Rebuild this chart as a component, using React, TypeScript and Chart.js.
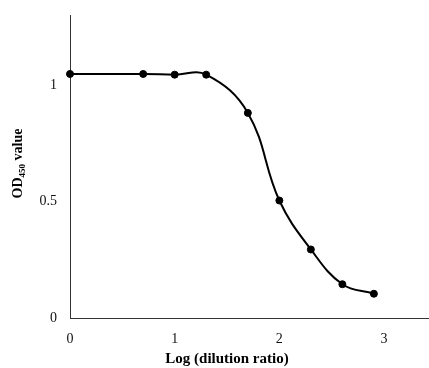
import React, { useEffect, useRef } from "react";
import { Chart, registerables } from "chart.js";

Chart.register(...registerables);

const logDilution = [0, 0.699, 1, 1.301, 1.699, 2, 2.301, 2.602, 2.903];
const od450 = [1.047, 1.047, 1.044, 1.044, 0.88, 0.504, 0.294, 0.145, 0.104];
const xTitle = "Log (dilution ratio)";
const yTitleMain = "OD";
const yTitleSub = "450";
const yTitleRest = " value";

const SERIF = '"Liberation Serif", "Times New Roman", serif';

const titlePlugin = {
  id: "customTitles",
  afterDraw(chart: any) {
    const ctx = chart.ctx;
    const xs = chart.scales.x;
    const ys = chart.scales.y;
    ctx.save();
    ctx.fillStyle = "#000";
    ctx.textBaseline = "alphabetic";
    ctx.font = `bold 15px ${SERIF}`;
    ctx.textAlign = "center";
    ctx.fillText(xTitle, xs.getPixelForValue(1.5), 363);

    // y title (rotated, with subscript)
    ctx.textAlign = "left";
    const mainFont = `bold 14px ${SERIF}`;
    const subFont = `bold 9px ${SERIF}`;
    ctx.font = mainFont;
    const w1 = ctx.measureText(yTitleMain).width;
    const w3 = ctx.measureText(yTitleRest).width;
    ctx.font = subFont;
    const w2 = ctx.measureText(yTitleSub).width;
    const total = w1 + w2 + w3;
    const cy = (ys.top + ys.bottom) / 2 - 3;
    ctx.translate(22, cy);
    ctx.rotate(-Math.PI / 2);
    let x = -total / 2;
    ctx.font = mainFont;
    ctx.fillText(yTitleMain, x, 0);
    x += w1;
    ctx.font = subFont;
    ctx.fillText(yTitleSub, x, 3);
    x += w2;
    ctx.font = mainFont;
    ctx.fillText(yTitleRest, x, 0);
    ctx.restore();
  },
};

export default function App() {
  const ref = useRef<HTMLCanvasElement | null>(null);
  useEffect(() => {
    if (!ref.current) return;
    const chart = new Chart(ref.current, {
      type: "scatter",
      data: {
        datasets: [
          {
            data: logDilution.map((x, i) => ({ x, y: od450[i] })),
            showLine: true,
            tension: 0.4,
            borderColor: "#000",
            borderWidth: 2,
            backgroundColor: "#000",
            pointBackgroundColor: "#000",
            pointBorderColor: "#000",
            pointRadius: 3.5,
            pointBorderWidth: 1,
            clip: false,
          },
        ],
      },
      options: {
        animation: false,
        responsive: true,
        maintainAspectRatio: false,
        layout: { autoPadding: false, padding: { top: 15, right: 1, left: 0, bottom: 0 } },
        plugins: {
          legend: { display: false },
          tooltip: { enabled: false },
        },
        scales: {
          x: {
            type: "linear",
            min: 0,
            max: 3.42,
            afterFit: (s: any) => {
              s.height = 50;
              s.paddingLeft = 0;
              s.paddingRight = 0;
            },
            grid: { display: false, drawTicks: false },
            border: { display: true, color: "#333", width: 1 },
            ticks: {
              stepSize: 1,
              includeBounds: false,
              padding: 13,
              color: "#111",
              font: { family: SERIF, size: 14 },
            },
          },
          y: {
            type: "linear",
            min: 0,
            max: 1.3,
            afterFit: (s: any) => {
              s.width = 70;
              s.paddingTop = 0;
              s.paddingBottom = 0;
            },
            grid: { display: false, drawTicks: false },
            border: { display: true, color: "#333", width: 1 },
            ticks: {
              stepSize: 0.5,
              includeBounds: false,
              padding: 13,
              color: "#111",
              font: { family: SERIF, size: 14 },
              callback: (v: any) => String(Number(v)),
            },
          },
        },
      },
      plugins: [titlePlugin],
    });
    return () => chart.destroy();
  }, []);
  return (
    <div style={{ position: "fixed", left: 0, top: 0, width: 429, height: 368, background: "#fff" }}>
      <canvas ref={ref} />
    </div>
  );
}
